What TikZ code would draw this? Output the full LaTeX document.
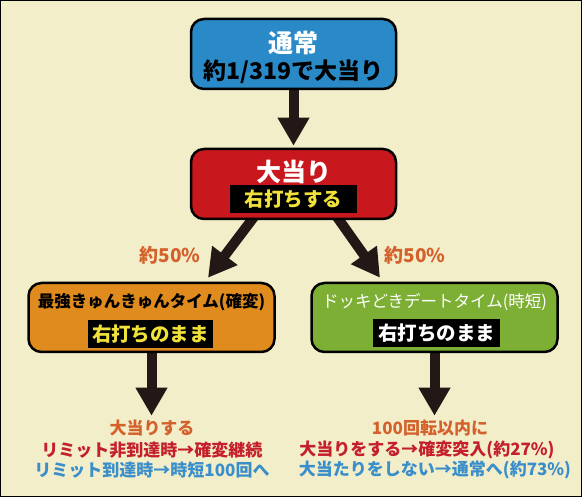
\documentclass[tikz,border=0pt]{standalone}
\usepackage{fontspec}
\setmainfont{Noto Sans CJK JP}
\usetikzlibrary{arrows.meta,backgrounds}

\definecolor{bgcream}{HTML}{F2EEC9}
\definecolor{boxblue}{HTML}{2A89C7}
\definecolor{boxred}{HTML}{C9171E}
\definecolor{boxorange}{HTML}{E08B1D}
\definecolor{boxgreen}{HTML}{7DAF35}
\definecolor{arrowdark}{HTML}{231815}
\definecolor{tagyellow}{HTML}{F0E23A}
\definecolor{txtorange}{HTML}{D4612B}
\definecolor{txtred}{HTML}{C41F2B}
\definecolor{txtblue}{HTML}{3A8EC9}

\tikzset{
  stage/.style={draw=black,line width=2.5pt,rounded corners=13pt,minimum width=205pt,minimum height=70pt,inner sep=0pt},
  substage/.style={stage,minimum width=246pt,minimum height=69pt},
  bigtitle/.style={inner sep=0pt,text=white,font=\fontsize{25}{25}\selectfont\bfseries},
  oddsline/.style={inner sep=0pt,text=black,font=\fontsize{23}{23}\selectfont\bfseries},
  subtitle/.style={inner sep=0pt,font=\fontsize{16.5}{16.5}\selectfont\bfseries},
  tag/.style={fill=black,minimum width=127pt,minimum height=28pt,inner sep=0pt,font=\fontsize{19.5}{19.5}\selectfont\bfseries},
  ratio/.style={inner sep=0pt,text=txtorange,font=\fontsize{19}{19}\selectfont\bfseries},
  result/.style={inner sep=0pt,font=\fontsize{17}{17}\selectfont\bfseries},
  bigarrow/.style={draw=arrowdark,line width=10pt,-{Triangle[width=30pt,length=28pt]}}
}

\begin{document}
\begin{tikzpicture}[x=1pt,y=-1pt]
	\useasboundingbox (0,0) rectangle (582,497);

	% boxes
	\node[stage,fill=boxblue] (normal) at (293.5,54) {};
	\node[bigtitle] (normaltitle) at (293.5,43) {通常};
	\node[oddsline] (normalodds) at (293.5,72) {約1/319で大当り};

	\node[stage,fill=boxred] (hit) at (293.5,184) {};
	\node[bigtitle] (hittitle) at (293.5,172) {大当り};
	\node[tag,text=tagyellow] (hittag) at (293.5,199.5) {右打ちする};

	\node[substage,fill=boxorange] (kakuhen) at (151.5,317.5) {};
	\node[subtitle,text=black] (kakuhentitle) at (151.5,302) {最強きゅんきゅんタイム(確変)};
	\node[tag,text=tagyellow,minimum width=125pt] (kakuhentag) at (150.5,334) {右打ちのまま};

	\node[substage,fill=boxgreen] (jitan) at (434.5,317.5) {};
	\node[subtitle,text=white,font=\fontsize{16.5}{16.5}\selectfont] (jitantitle) at (434.5,302) {ドッキどきデートタイム(時短)};
	\node[tag,text=white] (jitantag) at (436.5,333) {右打ちのまま};

	% ratios
	\node[ratio] (leftratio) at (170,255) {約50\%};
	\node[ratio] (rightratio) at (415,255) {約50\%};

	% results
	\node[result,text=txtorange] (kakuhenres) at (152,428) {大当りする};
	\node[result,text=txtred] (kakuhenstay) at (152,450) {リミット非到達時→確変継続};
	\node[result,text=txtblue] (kakuhenlimit) at (152,470) {リミット到達時→時短100回へ};

	\node[result,text=txtorange] (jitanres) at (430,428) {100回転以内に};
	\node[result,text=txtred] (jitanhit) at (427,450) {大当りをする→確変突入(約27\%)};
	\node[result,text=txtblue] (jitanmiss) at (435,470) {大当たりをしない→通常へ(約73\%)};

	\begin{scope}[on background layer]
		\fill[bgcream,draw=black,line width=1pt] (0.5,0.5) rectangle (581.5,496.5);
		\draw[bigarrow] (normal.south) -- ([yshift=2pt]hit.north);
		\draw[bigarrow] ([xshift=-39pt,yshift=4pt]hit.south) -- ([xshift=56.5pt,yshift=4pt]kakuhen.north);
		\draw[bigarrow] ([xshift=43pt,yshift=4pt]hit.south) -- ([xshift=-54.5pt,yshift=4pt]jitan.north);
		\draw[bigarrow] (kakuhen.south) -- ([yshift=4pt]kakuhen.south |- kakuhenres.north);
		\draw[bigarrow] (jitan.south) -- ([yshift=4pt]jitan.south |- jitanres.north);
	\end{scope}
\end{tikzpicture}
\end{document}
